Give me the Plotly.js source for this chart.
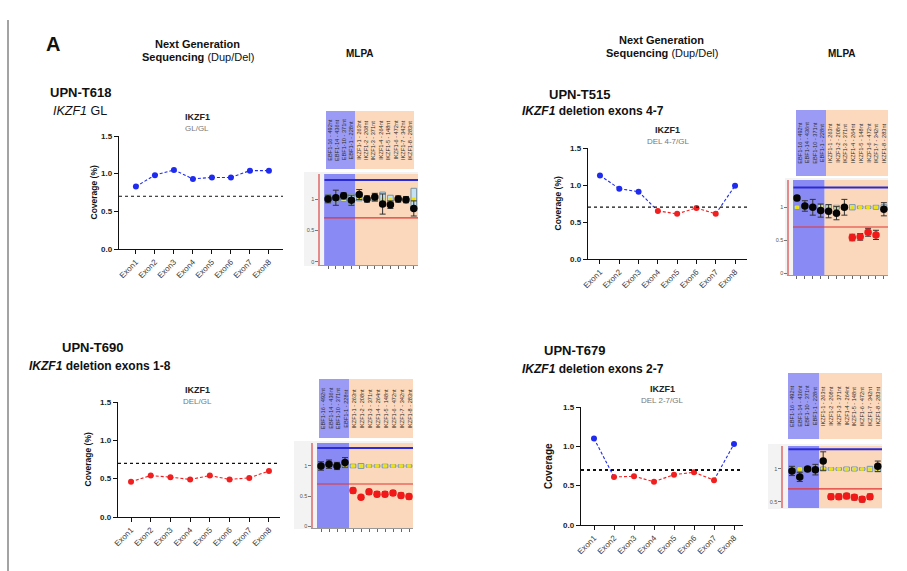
<!DOCTYPE html>
<html><head><meta charset="utf-8">
<script src="https://cdn.plot.ly/plotly-3.0.1.min.js"></script>
<style>html,body{margin:0;padding:0;background:#fff}#chart{width:907px;height:571px}</style>
</head><body><div id="chart"></div>
<script>
// ---------- data ----------
const exons = ['Exon1','Exon2','Exon3','Exon4','Exon5','Exon6','Exon7','Exon8'];
const coverageT618 = [0.83,0.98,1.05,0.93,0.95,0.95,1.04,1.04];
const coverageT515 = [1.13,0.95,0.91,0.65,0.61,0.69,0.61,0.99];
const coverageT690 = [0.46,0.54,0.52,0.49,0.54,0.49,0.51,0.60];
const coverageT679 = [1.10,0.61,0.62,0.55,0.64,0.67,0.57,1.03];
const delExonT618 = [0,0,0,0,0,0,0,0];
const delExonT515 = [0,0,0,1,1,1,1,0];
const delExonT690 = [1,1,1,1,1,1,1,1];
const delExonT679 = [0,1,1,1,1,1,1,0];
const cutoff = 0.7;

const probes = ['EBF1-16 - 492nt','EBF1-14 - 436nt','EBF1-10 - 371nt','EBF1-1 - 228nt',
  'IKZF1-1 - 263nt','IKZF1-2 - 208nt','IKZF1-3 - 371nt','IKZF1-4 - 264nt',
  'IKZF1-5 - 148nt','IKZF1-6 - 472nt','IKZF1-7 - 342nt','IKZF1-8 - 283nt'];
const probeIdx = [0,1,2,3,4,5,6,7,8,9,10,11];
const upperLimit = 1.3, lowerLimit = 0.7;

const ratioT618 = [1.00,1.02,1.05,0.98,1.07,1.00,1.03,0.92,0.91,1.00,0.99,0.85];
const errT618   = [0.06,0.12,0.05,0.08,0.08,0.05,0.06,0.16,0.06,0.05,0.05,0.12];
const refLoT618 = [0.93,0.95,0.96,0.91,0.97,0.97,0.96,0.88,0.93,0.98,0.98,0.82];
const refHiT618 = [1.07,1.06,1.05,1.08,1.06,1.03,1.03,1.11,1.06,1.02,1.02,1.17];
const delProbeT618 = [0,0,0,0,0,0,0,0,0,0,0,0];

const ratioT515 = [1.14,1.02,1.00,0.95,0.94,0.91,1.00,0.54,0.55,0.62,0.58,0.97];
const errT515   = [0.04,0.08,0.12,0.10,0.10,0.10,0.12,0.05,0.05,0.06,0.07,0.10];
const refLoT515 = [0.97,0.97,0.97,0.96,0.96,0.97,0.97,0.96,0.98,0.98,0.97,0.96];
const refHiT515 = [1.03,1.03,1.03,1.04,1.04,1.03,1.03,1.04,1.02,1.02,1.03,1.04];
const delProbeT515 = [0,0,0,0,0,0,0,1,1,1,1,0];

const ratioT690 = [1.00,1.03,1.00,1.06,0.59,0.48,0.57,0.53,0.53,0.55,0.51,0.49];
const errT690   = [0.07,0.07,0.06,0.08,0.04,0.03,0.04,0.04,0.04,0.04,0.04,0.04];
const refLoT690 = [0.97,0.97,0.97,0.97,0.97,0.96,0.98,0.98,0.97,0.98,0.98,0.98];
const refHiT690 = [1.03,1.03,1.03,1.03,1.03,1.04,1.02,1.02,1.03,1.02,1.02,1.02];
const delProbeT690 = [0,0,0,0,1,1,1,1,1,1,1,1];

const ratioT679 = [0.97,0.88,1.00,0.99,1.12,0.58,0.58,0.59,0.57,0.54,0.58,1.04];
const errT679   = [0.07,0.07,0.03,0.08,0.14,0.04,0.04,0.04,0.04,0.04,0.04,0.08];
const refLoT679 = [0.96,0.97,0.97,0.97,0.97,0.98,0.98,0.97,0.97,0.98,0.96,0.96];
const refHiT679 = [1.04,1.03,1.03,1.03,1.03,1.02,1.02,1.03,1.03,1.02,1.04,1.04];
const delProbeT679 = [0,0,0,0,0,1,1,1,1,1,1,0];

// ---------- helpers ----------
const W = 907, H = 571;
const X = p => p / W, Y = p => 1 - p / H;
const FONT = 'Liberation Sans, Arial, sans-serif';
const BLUE = '#1f2cf0', RED = '#f02020';
const traces = [], shapes = [], annotations = [];
const layout = {
  width: W, height: H, margin: {l:0, r:0, t:0, b:0},
  paper_bgcolor: '#ffffff', plot_bgcolor: 'rgba(0,0,0,0)',
  showlegend: false, font: {family: FONT, color: '#222'},
  shapes, annotations
};
function ann(text, px, py, size, extra) {
  annotations.push(Object.assign({
    text, x: X(px), y: Y(py), xref: 'paper', yref: 'paper',
    showarrow: false, xanchor: 'center', yanchor: 'middle',
    font: {family: FONT, size, color: '#111'}
  }, extra || {}));
}
function rectPx(l, r, t, b, fill) {
  shapes.push({type: 'rect', xref: 'paper', yref: 'paper', layer: 'below',
    x0: X(l), x1: X(r), y0: Y(b), y1: Y(t), fillcolor: fill, line: {width: 0}});
}

// ---------- NGS panels ----------
function ngsPanel(k, vals, del, c) {
  const s = k === 1 ? '' : String(k);
  const xa = 'x' + s, ya = 'y' + s;
  layout['xaxis' + s] = {
    domain: [X(c.l), X(c.r)], anchor: ya, type: 'category',
    categoryarray: exons, range: c.xr, showgrid: false, zeroline: false,
    showline: true, linecolor: '#111', linewidth: 1.3,
    ticks: 'outside', ticklen: 4, tickcolor: '#111', tickangle: -45,
    tickfont: {family: FONT, size: 8, color: '#3a3a3a'}
  };
  layout['yaxis' + s] = {
    domain: [Y(c.b), Y(c.t)], anchor: xa, range: [0, 1.5],
    tickvals: [0, 0.5, 1, 1.5], tickformat: '.1f', showgrid: false, zeroline: false,
    showline: true, linecolor: '#111', linewidth: 1.3,
    ticks: 'outside', ticklen: 4, tickcolor: '#111',
    tickfont: {family: FONT, size: 8, color: '#222', weight: 'bold'}
  };
  shapes.push({type: 'line', xref: xa + ' domain', yref: ya, x0: 0, x1: 1,
    y0: cutoff, y1: cutoff, line: {color: '#111', width: c.cw, dash: 'dot'}});
  for (let i = 0; i < vals.length - 1; i++) {
    const col = (del[i] && del[i + 1]) ? RED : BLUE;
    traces.push({x: [exons[i], exons[i + 1]], y: [vals[i], vals[i + 1]],
      xaxis: xa, yaxis: ya, mode: 'lines', hoverinfo: 'skip',
      line: {color: col, width: 1.1, dash: '3px,2px'}});
  }
  traces.push({x: exons, y: vals, xaxis: xa, yaxis: ya, mode: 'markers',
    marker: {size: 6, color: del.map(d => d ? RED : BLUE)}});
  ann('<b>IKZF1</b>', (c.l + c.r) / 2 + c.tdx, c.ty, 9, {font: {family: FONT, size: 9, color: '#222'}});
  ann(c.sub, (c.l + c.r) / 2 + c.tdx, c.ty + 11, 8, {font: {family: FONT, size: 8, color: '#777'}});
  ann('<b>' + c.ytitle + '</b>', c.yx, (c.t + c.b) / 2, 8.5,
    {textangle: -90, font: {family: FONT, size: c.ys, color: '#111'}});
}
ngsPanel(1, coverageT618, delExonT618, {l:119, r:283, t:136, b:249, xr:[-0.89, 7.74], cw:1, sub:'GL/GL', tdx:-4, ty:117, yx:93, ys:8.5, ytitle:'Coverage (%)'});
ngsPanel(2, coverageT515, delExonT515, {l:588, r:747, t:148, b:259, xr:[-0.62, 7.62], cw:1.2, sub:'DEL 4-7/GL', tdx:0, ty:130, yx:558, ys:8.5, ytitle:'Coverage (%)'});
ngsPanel(3, coverageT690, delExonT690, {l:118, r:280, t:402, b:517, xr:[-0.66, 7.56], cw:1.2, sub:'DEL/GL', tdx:-2, ty:390, yx:87, ys:8.5, ytitle:'Coverage (%)'});
ngsPanel(4, coverageT679, delExonT679, {l:581, r:743, t:407, b:525, xr:[-0.65, 7.45], cw:2, sub:'DEL 2-7/GL', tdx:0, ty:389, yx:548, ys:10, ytitle:'Coverage'});

// ---------- MLPA panels ----------
function mlpaPanel(k, ratio, err, lo, hi, del, c) {
  const s = String(k), xa = 'x' + s, ya = 'y' + s;
  rectPx(c.gl, c.r, c.t - 2, c.b + 1, '#f3f3f3');
  rectPx(c.hb[0], c.hb[1], c.ht, c.hbot, '#9b9bf6');
  rectPx(c.hb[1], c.hb[2], c.ht, c.hbot, '#fcd9bc');
  const bw = (c.hb[1] - c.hb[0]) / 4, ow = (c.hb[2] - c.hb[1]) / 8;
  probes.forEach((p, i) => {
    const cx = i < 4 ? c.hb[0] + (i + 0.5) * bw : c.hb[1] + (i - 4 + 0.5) * ow;
    ann(p, cx, (c.ht + c.hbot) / 2, 5.5, {textangle: -90, font: {family: FONT, size: 5.6, color: '#2a2a2a'}});
  });
  layout['xaxis' + s] = {
    domain: [X(c.l), X(c.r)], anchor: ya, range: c.xr, showgrid: false, zeroline: false,
    showline: c.xline, linecolor: '#999', linewidth: 1,
    tickvals: probeIdx, ticks: c.xline ? 'outside' : '', ticklen: 3, tickcolor: '#666', showticklabels: false
  };
  layout['yaxis' + s] = {
    domain: [Y(c.b), Y(c.t)], anchor: xa, range: c.yr, showgrid: false, zeroline: false,
    showline: true, linecolor: '#e58a8a', linewidth: 1.6,
    tickvals: [0, 0.5, 1], ticktext: ['0', '0.5', '1'], ticks: 'outside', ticklen: 3, tickcolor: '#777',
    tickfont: {family: FONT, size: 5.5, color: '#555'}
  };
  shapes.push({type: 'rect', xref: xa, yref: ya + ' domain', layer: 'below',
    x0: -0.5, x1: 3.5, y0: 0, y1: 1, fillcolor: '#8a8af4', line: {width: 0}});
  shapes.push({type: 'rect', xref: xa, yref: ya + ' domain', layer: 'below',
    x0: 3.5, x1: c.xr[1], y0: 0, y1: 1, fillcolor: '#fbd8bb', line: {width: 0}});
  shapes.push({type: 'line', xref: xa, yref: ya, x0: -0.45, x1: c.xr[1],
    y0: upperLimit, y1: upperLimit, line: {color: '#2b2bd6', width: 2}});
  shapes.push({type: 'line', xref: xa, yref: ya, x0: -0.5, x1: c.xr[1],
    y0: lowerLimit, y1: lowerLimit, line: {color: '#e23535', width: 1.2}});
  traces.push({type: 'bar', x: probeIdx, base: lo, y: hi.map((h, i) => h - lo[i]),
    xaxis: xa, yaxis: ya, width: 0.72,
    marker: {color: '#c4e2f4', line: {color: '#7893a3', width: 1}}});
  traces.push({x: probeIdx, y: hi.map((h, i) => (h + lo[i]) / 2), xaxis: xa, yaxis: ya,
    mode: 'markers', marker: {symbol: 'square', size: 3.5, color: '#f2e200'}});
  traces.push({x: probeIdx, y: ratio, xaxis: xa, yaxis: ya, mode: 'markers',
    error_y: {type: 'data', array: err, visible: true, color: '#333', thickness: 1, width: 3},
    marker: {size: 7.5, color: del.map(d => d ? '#f01818' : '#050505')}});
}
mlpaPanel(5, ratioT618, errT618, refLoT618, refHiT618, delProbeT618,
  {l:320, r:418, t:174, b:265, gl:304, xr:[-1.03, 11.54], yr:[-0.048, 1.397], xline:true, hb:[326,355,414], ht:111, hbot:169});
mlpaPanel(6, ratioT515, errT515, refLoT515, refHiT515, delProbeT515,
  {l:789, r:888, t:180, b:275, gl:785, xr:[-1.01, 11.52], yr:[-0.03, 1.415], xline:true, hb:[796,826,888], ht:110, hbot:176});
mlpaPanel(7, ratioT690, errT690, refLoT690, refHiT690, delProbeT690,
  {l:313, r:413, t:443, b:528, gl:294, xr:[-1.0, 11.5], yr:[-0.033, 1.383], xline:true, hb:[319,349,413], ht:379, hbot:438});
mlpaPanel(8, ratioT679, errT679, refLoT679, refHiT679, delProbeT679,
  {l:783, r:882, t:446, b:508, gl:768, xr:[-1.15, 11.54], yr:[0.409, 1.348], xline:false, hb:[788,819,882], ht:373, hbot:439});

// ---------- headings ----------
ann('<b>A</b>', 53, 44, 20);
ann('<b>Next Generation</b>', 197, 44, 11);
ann('<b>Sequencing</b> (Dup/Del)', 198, 57, 11);
ann('<b>MLPA</b>', 360, 53, 10);
ann('<b>Next Generation</b>', 661, 40, 11);
ann('<b>Sequencing</b> (Dup/Del)', 662, 53, 11);
ann('<b>MLPA</b>', 842, 53, 10);
ann('<b>UPN-T618</b>', 80, 93, 13);
ann('<i>IKZF1</i> GL', 80, 111, 12.5);
ann('<b>UPN-T515</b>', 579, 94, 13);
ann('<b><i>IKZF1</i> deletion exons 4-7</b>', 593, 111, 12);
ann('<b>UPN-T690</b>', 92, 347, 13);
ann('<b><i>IKZF1</i> deletion exons 1-8</b>', 100, 366, 12);
ann('<b>UPN-T679</b>', 574, 350, 13);
ann('<b><i>IKZF1</i> deletion exons 2-7</b>', 593, 369, 12);

// frame line
shapes.push({type: 'line', xref: 'paper', yref: 'paper', x0: X(8), x1: X(8), y0: 0, y1: Y(20),
  line: {color: '#666', width: 1.2}});

Plotly.newPlot('chart', traces, layout, {displayModeBar: false, staticPlot: true});
</script></body></html>
